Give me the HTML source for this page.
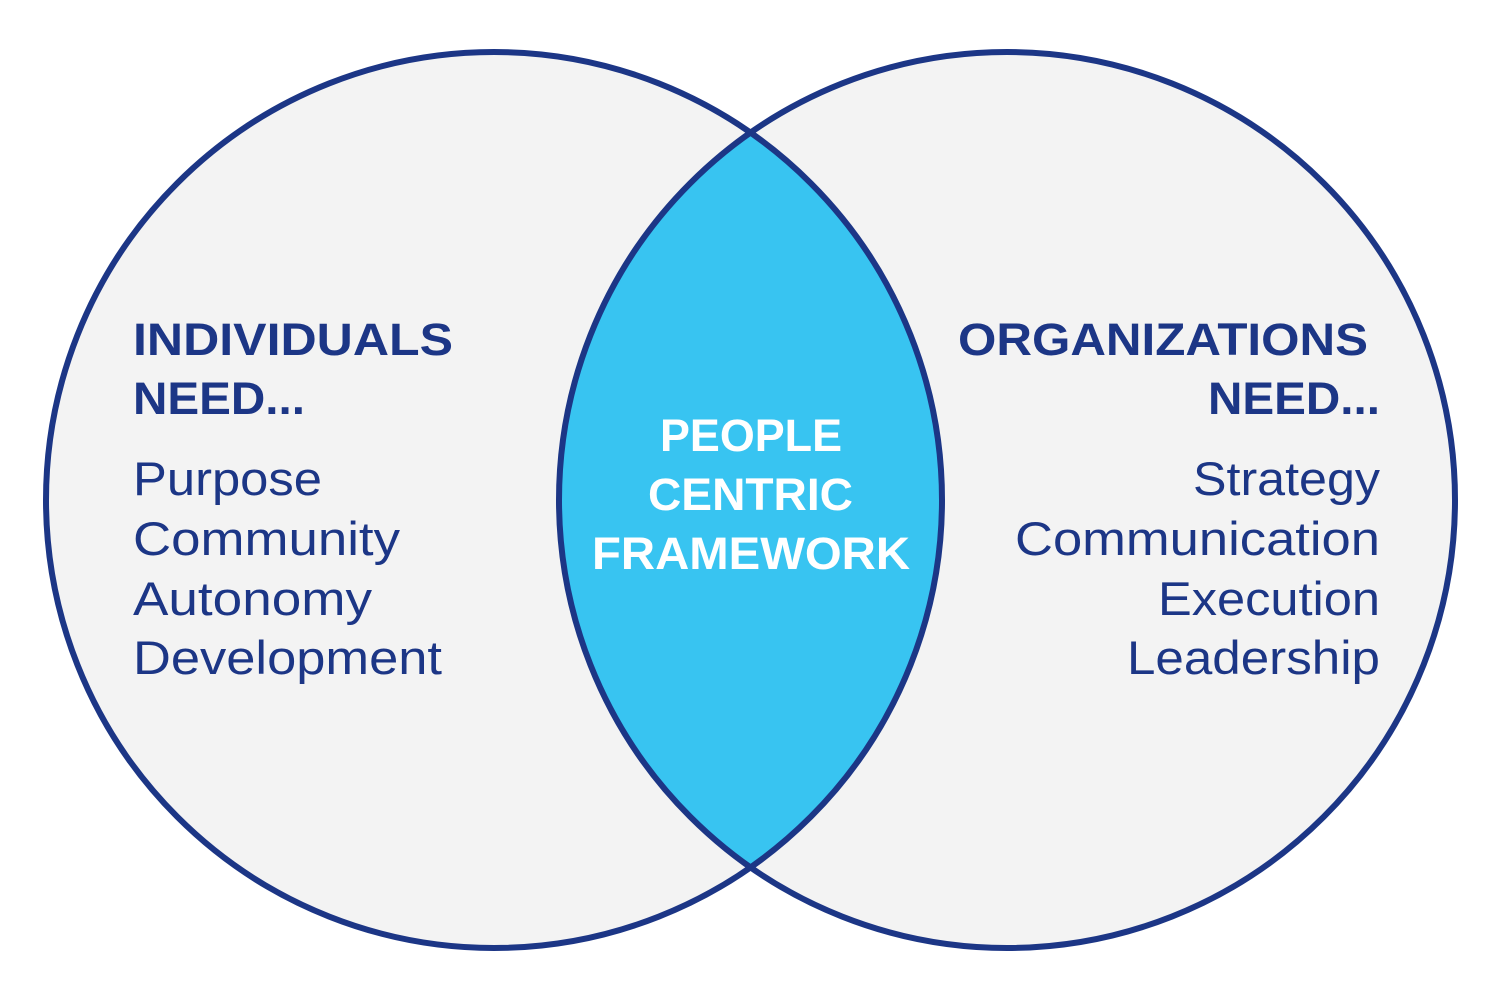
<!DOCTYPE html>
<html><head><meta charset="utf-8"><style>
html,body{margin:0;padding:0;background:#fff;}
svg{display:block}
text{font-family:"Liberation Sans",sans-serif;}
</style></head><body>
<svg width="1500" height="1002" viewBox="0 0 1500 1002" xmlns="http://www.w3.org/2000/svg">
<defs>
<clipPath id="cl"><circle cx="494" cy="500" r="448"/></clipPath>
</defs>
<circle cx="494" cy="500" r="448" fill="#f3f3f3"/>
<circle cx="1007" cy="500" r="448" fill="#f3f3f3"/>
<circle cx="1007" cy="500" r="448" fill="#38c4f1" clip-path="url(#cl)"/>
<circle cx="494" cy="500" r="448" fill="none" stroke="#1c3686" stroke-width="6"/>
<circle cx="1007" cy="500" r="448" fill="none" stroke="#1c3686" stroke-width="6"/>
<g fill="#1c3686" lengthAdjust="spacingAndGlyphs">
<text x="133" y="355" font-size="45" font-weight="bold" textLength="320" lengthAdjust="spacingAndGlyphs">INDIVIDUALS</text>
<text x="133" y="414" font-size="45" font-weight="bold" textLength="172" lengthAdjust="spacingAndGlyphs">NEED...</text>
<text x="133" y="495" font-size="47" textLength="189" lengthAdjust="spacingAndGlyphs">Purpose</text>
<text x="133" y="555" font-size="47" textLength="267" lengthAdjust="spacingAndGlyphs">Community</text>
<text x="133" y="615" font-size="47" textLength="239" lengthAdjust="spacingAndGlyphs">Autonomy</text>
<text x="133" y="674" font-size="47" textLength="309" lengthAdjust="spacingAndGlyphs">Development</text>
<text x="958" y="355" font-size="45" font-weight="bold" textLength="410" lengthAdjust="spacingAndGlyphs">ORGANIZATIONS</text>
<text x="1208" y="414" font-size="45" font-weight="bold" textLength="172" lengthAdjust="spacingAndGlyphs">NEED...</text>
<text x="1193" y="495" font-size="47" textLength="187" lengthAdjust="spacingAndGlyphs">Strategy</text>
<text x="1015" y="555" font-size="47" textLength="365" lengthAdjust="spacingAndGlyphs">Communication</text>
<text x="1158" y="615" font-size="47" textLength="222" lengthAdjust="spacingAndGlyphs">Execution</text>
<text x="1127" y="674" font-size="47" textLength="253" lengthAdjust="spacingAndGlyphs">Leadership</text>
</g>
<g fill="#fff" font-weight="bold" font-size="45">
<text x="660" y="451" textLength="182" lengthAdjust="spacingAndGlyphs">PEOPLE</text>
<text x="648" y="510" textLength="205" lengthAdjust="spacingAndGlyphs">CENTRIC</text>
<text x="592" y="569" textLength="318" lengthAdjust="spacingAndGlyphs">FRAMEWORK</text>
</g>
</svg>
</body></html>
